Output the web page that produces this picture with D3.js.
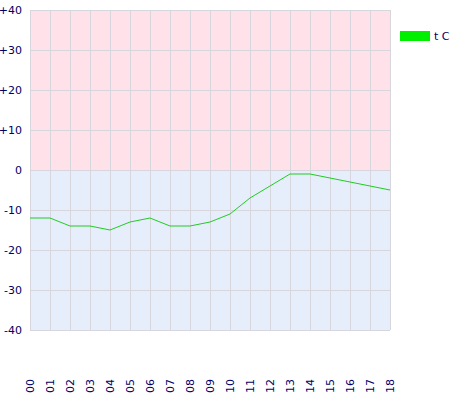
<!DOCTYPE html>
<html><head><meta charset="utf-8">
<script src="https://cdn.jsdelivr.net/npm/d3@7"></script>
<style>body{margin:0;background:#fff}svg{display:block}text{font-family:"DejaVu Sans",Verdana,sans-serif}</style>
</head><body>
<svg id="c" width="460" height="400"></svg>
<script>
const hours = ["00","01","02","03","04","05","06","07","08","09","10","11","12","13","14","15","16","17","18"];
const temps = [-12,-12,-14,-14,-15,-13,-12,-14,-14,-13,-11,-7,-4,-1,-1,-2,-3,-4,-5];
const yTicks = [40,30,20,10,0,-10,-20,-30,-40];
const seriesName = "t C";

const svg = d3.select("#c");
const x = d3.scalePoint().domain(hours).range([30,390]);
const y = d3.scaleLinear().domain([-40,40]).range([330,10]);

svg.append("rect").attr("x",30).attr("y",y(40)).attr("width",360).attr("height",y(0)-y(40)).attr("fill","#ffe1ea");
svg.append("rect").attr("x",30).attr("y",y(0)).attr("width",360).attr("height",y(-40)-y(0)).attr("fill","#e6eefc");

const g = svg.append("g");
hours.forEach(h=>g.append("line").attr("x1",x(h)+0.5).attr("x2",x(h)+0.5).attr("y1",10).attr("y2",330).attr("stroke","#d6d6dc"));
yTicks.forEach(t=>g.append("line").attr("x1",30).attr("x2",390).attr("y1",y(t)+0.5).attr("y2",y(t)+0.5).attr("stroke","#d6d6dc"));

const yAxis = svg.append("g").attr("transform","translate(30,0)")
  .call(d3.axisLeft(y).tickValues(yTicks).tickSize(0).tickPadding(8).tickFormat(d=>d>0?"+"+d:String(d)));
yAxis.select(".domain").remove();
yAxis.selectAll("text").attr("fill","#000066").attr("font-size",11);

const xAxis = svg.append("g").attr("transform","translate(0,378)")
  .call(d3.axisBottom(x).tickSize(0).tickPadding(0));
xAxis.select(".domain").remove();
xAxis.selectAll("text").attr("fill","#000066").attr("font-size",11)
  .attr("transform","rotate(-90)").attr("text-anchor","end").attr("dy","0.35em").attr("x",-2).attr("y",0)
  .attr("transform",function(){return "rotate(-90)";});
xAxis.selectAll(".tick text").attr("text-anchor","middle").attr("x",-8);

svg.append("path").datum(temps)
  .attr("d",d3.line().x((d,i)=>x(hours[i])).y(d=>y(d)))
  .attr("fill","none").attr("stroke","#22cc22").attr("stroke-width",1);

svg.append("rect").attr("x",400).attr("y",31).attr("width",30).attr("height",10).attr("fill","#00ee00");
svg.append("text").attr("x",434).attr("y",40).attr("font-size",11).attr("fill","#000066").attr("font-family","DejaVu Sans Mono, monospace").text(seriesName);
</script>
</body></html>
